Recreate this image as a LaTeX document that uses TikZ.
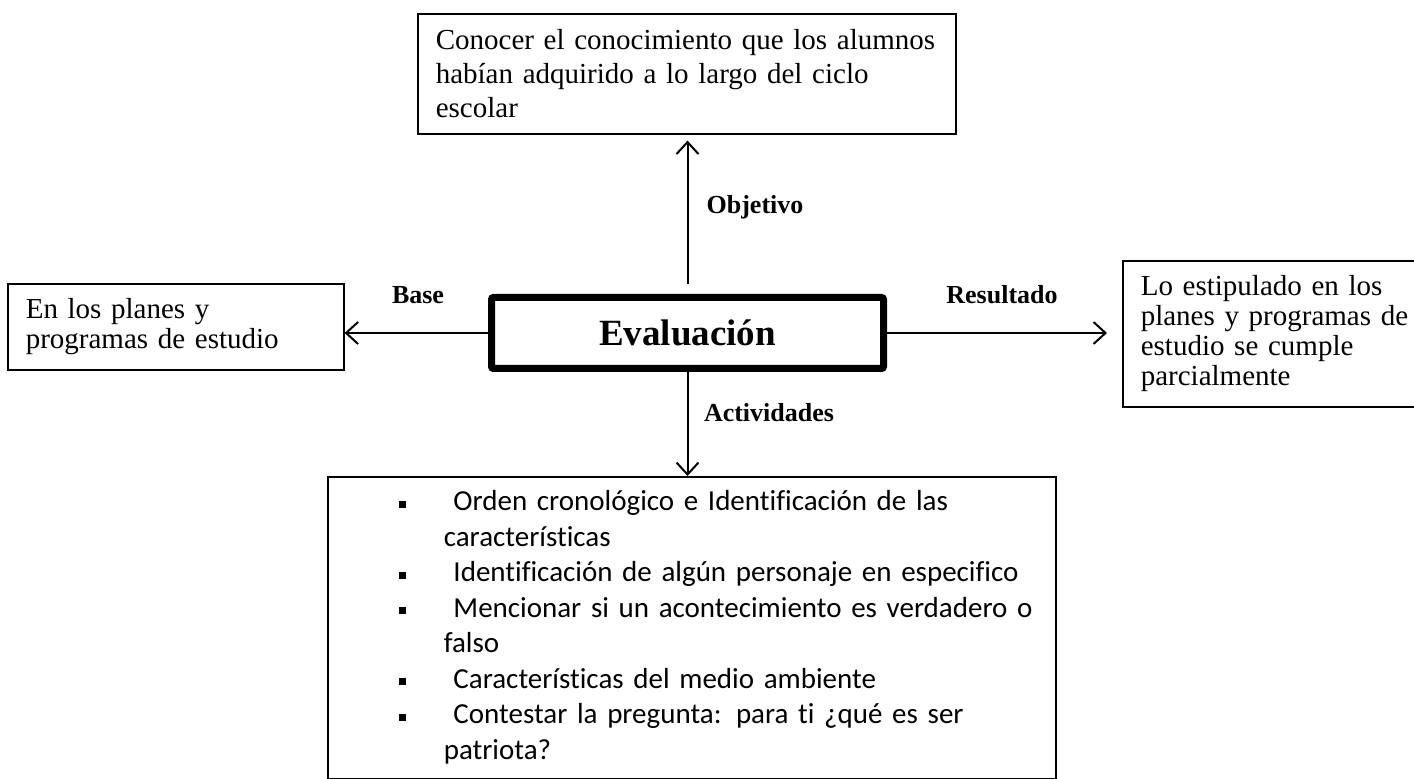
\documentclass[tikz,border=0pt]{standalone}
\usepackage{fontspec}
\setmainfont{Liberation Serif}
\newfontfamily\calibri[Ligatures=NoCommon]{Carlito}
\usetikzlibrary{arrows.meta,positioning}

\newcommand\sqbullet{\hspace*{35.75pt}\rule[1.6pt]{3.5pt}{3.5pt}}

\begin{document}
\begin{tikzpicture}[x=0.5pt, y=-0.5pt,
  txtbox/.style={draw, line width=0.8pt, anchor=north west, inner xsep=9pt, align=left},
  evalbox/.style={draw, line width=3.5pt, rounded corners=1pt, minimum width=196pt, minimum height=35.5pt, font=\bfseries\fontsize{18.5pt}{22pt}\selectfont},
  lbl/.style={font=\bfseries\fontsize{13pt}{15pt}\selectfont},
  arr/.style={line width=1pt, -{Straight Barb[length=6pt,width=11pt,line width=1pt]}}]
\clip (0,0) rectangle (1414,779);
\fill[white] (0,0) rectangle (1414,779);

\node[evalbox] (eval) at (687.5,333) {Evaluación};

\node[txtbox, text width=251pt, minimum height=60pt, font=\fontsize{14.5pt}{17pt}\selectfont] (objbox) at (417,13)
  {Conocer el conocimiento que los alumnos\\ habían adquirido a lo largo del ciclo\\ escolar};
\node[txtbox, text width=150pt, minimum height=43pt, font=\fontsize{14.5pt}{15pt}\selectfont] (basebox) at (7,283)
  {En los planes y\\ programas de estudio};
\node[txtbox, text width=140pt, minimum height=73pt, font=\fontsize{14.5pt}{15pt}\selectfont] (resbox) at (1122,260)
  {Lo estipulado en los\\ planes y programas de\\ estudio se cumple\\ parcialmente};
\node[txtbox, inner xsep=0pt, inner ysep=4.6pt, text width=364pt, font=\calibri\fontsize{14.5pt}{17.75pt}\selectfont] (actbox) at (327,476)
  {\noindent\begin{tabular}[t]{@{}p{58pt}@{}l@{}}
   \sqbullet & \ Orden cronológico e Identificación de las\\
             & características\\
   \sqbullet & \ Identificación de algún personaje en especifico\\
   \sqbullet & \ Mencionar si un acontecimiento es verdadero o\\
             & falso\\
   \sqbullet & \ Características del medio ambiente\\
   \sqbullet & \ Contestar la pregunta: para ti ¿qué es ser\\
             & patriota?
   \end{tabular}\par\vspace{12pt}};

% connectors
\draw[arr, shorten <=5pt, shorten >=3pt] (eval.north) -- (objbox.south -| eval.north);
\draw[arr] (eval.south) -- (eval.south |- actbox.north);
\draw[arr] (eval.west) -- (eval.west -| basebox.east);
\draw[arr, shorten >=7.5pt] (eval.east) -- (eval.east -| resbox.west);

\node[lbl] (objlbl) at (755,207) {Objetivo};
\node[lbl] (baselbl) at (418,295) {Base};
\node[lbl] (reslbl) at (1002,295) {Resultado};
\node[lbl] (actlbl) at (769,413) {Actividades};
\end{tikzpicture}
\end{document}
